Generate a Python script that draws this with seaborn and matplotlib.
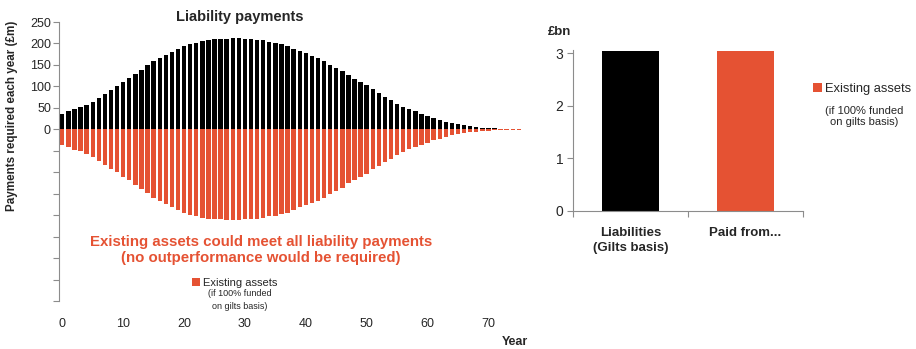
import matplotlib
matplotlib.use("Agg")
import matplotlib.pyplot as plt
from matplotlib.patches import Patch
import numpy as np
import pandas as pd
import seaborn as sns

# Annual liability cash flows (£m) by year
years = list(range(0, 76))
liability_payments = [
    36, 42, 48, 51, 57, 64, 74, 82, 92, 100,
    110, 119, 129, 138, 149, 159, 167, 174, 181, 188,
    194, 199, 202, 206, 208, 210, 210, 211, 212, 212,
    210, 210, 209, 207, 203, 201, 198, 194, 188, 182,
    177, 172, 166, 159, 151, 144, 136, 126, 118, 110,
    103, 93, 85, 76, 68, 60, 53, 47, 42, 36,
    31, 26, 22, 17, 14, 12, 9, 7, 5.5, 4,
    3, 2.4, 1.6, 1, 0.8, 0.5,
]
# Payments met from existing assets (shown below the axis)
asset_payments = list(liability_payments)

# Present values (£bn)
pv_categories = ["Liabilities\n(Gilts basis)", "Paid from..."]
pv_values = [3.04, 3.04]

BLACK = "#000000"
RED = "#E55233"
GREY = "#8C8C8C"
FONT = ["Liberation Sans", "DejaVu Sans"]

sns.set_theme(style="white")
plt.rcParams["font.family"] = FONT
plt.rcParams["axes.edgecolor"] = GREY

fig = plt.figure(figsize=(9.16, 3.49), dpi=100)

# ---- Left: annual payments ----
ax = fig.add_axes([0.0647, 0.1375, 0.515, 0.7994])
df = pd.DataFrame({"year": years, "liab": liability_payments,
                   "assets": [-v for v in asset_payments]})
sns.barplot(data=df, x="year", y="liab", native_scale=True, color=BLACK,
            width=0.72, errorbar=None, saturation=1, ax=ax, linewidth=0)
sns.barplot(data=df, x="year", y="assets", native_scale=True, color=RED,
            width=0.72, errorbar=None, saturation=1, ax=ax, linewidth=0)
ax.set_xlim(-0.5, 77)
ax.set_ylim(-400, 250)
yt = np.arange(-400, 251, 50)
ax.set_yticks(yt)
ax.set_yticklabels([str(v) if v >= 0 else "" for v in yt], fontsize=9)
ax.set_xticks(range(0, 71, 10))
ax.set_xticklabels([str(v) for v in range(0, 71, 10)], fontsize=9)
ax.tick_params(axis="y", direction="out", length=4, width=0.8, color=GREY,
               left=True, pad=2)
ax.tick_params(axis="x", length=0, pad=12)
for s in ["top", "right", "bottom"]:
    ax.spines[s].set_visible(False)
ax.spines["left"].set_color(GREY)
ax.spines["left"].set_linewidth(0.8)
ax.set_xlabel("")
ax.set_ylabel("")

fig.text(240 / 916, 1 - 17 / 349, "Liability payments", ha="center",
         va="center", fontsize=10.5, fontweight="bold")
fig.text(12 / 916, 1 - 116 / 349, "Payments required each year (£m)",
         rotation=90, ha="center", va="center", fontsize=8.4,
         fontweight="bold")
fig.text(515 / 916, 1 - 342 / 349, "Year", ha="center", va="center",
         fontsize=9, fontweight="bold")
fig.text(261 / 916, 1 - 250 / 349,
         "Existing assets could meet all liability payments\n"
         "(no outperformance would be required)",
         ha="center", va="center", fontsize=10.8, fontweight="bold",
         color=RED, linespacing=1.1)

ax.legend(handles=[Patch(facecolor=RED, edgecolor="none",
                         label="Existing assets")],
          loc="center left", bbox_to_anchor=(192 / 916, 1 - 283 / 349),
          bbox_transform=fig.transFigure, frameon=False, fontsize=8,
          handlelength=0.7, handleheight=0.7, handletextpad=0.3,
          borderpad=0, borderaxespad=0)
fig.text(240 / 916, 1 - 300 / 349, "(if 100% funded\non gilts basis)",
         ha="center", va="center", fontsize=6.5, linespacing=1.45)

# ---- Right: present values ----
ax2 = fig.add_axes([0.6255, 0.3963, 0.251, 0.46])
pv = pd.DataFrame({"cat": pv_categories, "val": pv_values})
sns.barplot(data=pv, x="cat", y="val", hue="cat",
            palette=[BLACK, RED], width=0.5, saturation=1, errorbar=None,
            legend=False, ax=ax2, linewidth=0)
ax2.set_xlim(-0.5, 1.5)
ax2.set_ylim(0, 3.06)
ax2.set_yticks([0, 1, 2, 3])
ax2.set_yticklabels(["0", "1", "2", "3"], fontsize=10)
ax2.set_xticks([0, 1])
ax2.set_xticklabels(pv_categories, fontsize=9.5, fontweight="bold",
                    linespacing=1.3)
ax2.set_xticks([-0.5, 0.5, 1.5], minor=True)
ax2.tick_params(axis="x", which="major", length=0, pad=12)
ax2.tick_params(axis="x", which="minor", direction="out", length=4,
                width=0.8, color=GREY, bottom=True)
ax2.tick_params(axis="y", direction="out", length=4, width=0.8, color=GREY,
                left=True, pad=3)
for s in ["top", "right"]:
    ax2.spines[s].set_visible(False)
for s in ["left", "bottom"]:
    ax2.spines[s].set_color(GREY)
    ax2.spines[s].set_linewidth(0.8)
ax2.set_xlabel("")
ax2.set_ylabel("")

fig.text(560 / 916, 1 - 32 / 349, "£bn", ha="center", va="center",
         fontsize=9.5, fontweight="bold")
ax2.legend(handles=[Patch(facecolor=RED, edgecolor="none",
                          label="Existing assets")],
           loc="center left", bbox_to_anchor=(813 / 916, 1 - 89 / 349),
           bbox_transform=fig.transFigure, frameon=False, fontsize=9.3,
           handlelength=0.7, handleheight=0.7, handletextpad=0.25,
           borderpad=0, borderaxespad=0)
fig.text(864 / 916, 1 - 116.5 / 349, "(if 100% funded\non gilts basis)",
         ha="center", va="center", fontsize=8, linespacing=1.2)

fig.savefig("out.png", dpi=100)
